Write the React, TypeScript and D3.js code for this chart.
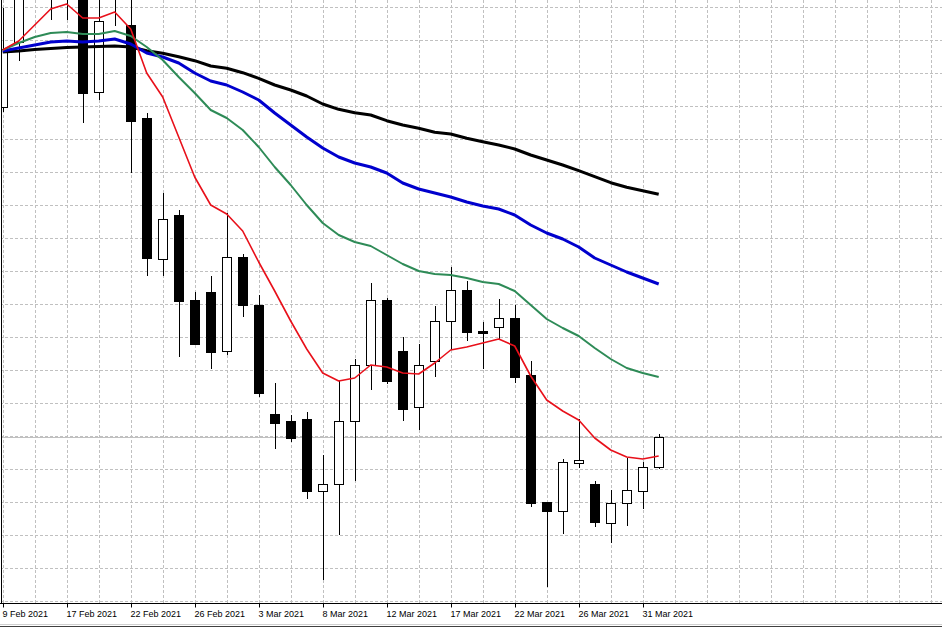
import React, { useEffect, useRef, FC } from "react";
import * as d3 from "d3";

const W = 942;
const H = 628;
const axisY = 603.5;

// daily candles, 9 Feb 2021 .. 1 Apr 2021 (42 bars)
const opens = [1893, 1958, 2008, 2030, 2005, 2020, 1908, 2005, 1975, 1882, 1741, 1785, 1700, 1708, 1649, 1743, 1695, 1586, 1579, 1581, 1509, 1516, 1579, 1635, 1700, 1649, 1593, 1639, 1679, 1710, 1669, 1673, 1682, 1625, 1498, 1489, 1537, 1516, 1477, 1497, 1509, 1533];
const highs = [1992, 2025, 2045, 2040, 2035, 2030, 2015, 2030, 2010, 1887, 1807, 1790, 1708, 1724, 1787, 1746, 1705, 1617, 1585, 1588, 1545, 1619, 1641, 1717, 1702, 1663, 1656, 1694, 1733, 1719, 1678, 1701, 1695, 1639, 1498, 1541, 1581, 1519, 1510, 1542, 1538, 1566];
const lows = [1888, 1939, 2003, 1980, 1980, 1877, 1900, 1974, 1827, 1724, 1724, 1643, 1655, 1631, 1645, 1683, 1603, 1551, 1558, 1501, 1420, 1465, 1519, 1610, 1616, 1579, 1570, 1623, 1650, 1659, 1631, 1661, 1617, 1493, 1413, 1466, 1532, 1473, 1457, 1474, 1491, 1531];
const closes = [1951, 2015, 2035, 2005, 2025, 1907, 1979, 2020, 1879, 1742, 1781, 1699, 1656, 1648, 1743, 1695, 1607, 1577, 1562, 1509, 1516, 1579, 1635, 1700, 1619, 1591, 1635, 1679, 1710, 1668, 1667, 1682, 1623, 1497, 1489, 1538, 1540, 1478, 1497, 1510, 1533, 1563];

// moving averages
const maFast = [1950, 1959, 1975, 1991, 1996, 1982, 1982, 1988, 1971, 1927, 1903, 1863, 1823, 1795, 1786, 1769, 1738, 1709, 1679, 1651, 1627, 1619, 1622, 1635, 1633, 1627, 1626, 1637, 1650, 1653, 1657, 1661, 1654, 1624, 1600, 1589, 1580, 1562, 1550, 1543, 1541, 1544];
const maMid = [1950, 1957, 1963, 1967, 1968, 1966, 1966, 1969, 1964, 1953, 1940, 1923, 1907, 1890, 1882, 1870, 1853, 1833, 1815, 1795, 1777, 1765, 1758, 1754, 1745, 1736, 1729, 1726, 1725, 1722, 1718, 1716, 1709, 1695, 1681, 1672, 1664, 1652, 1641, 1632, 1627, 1623];
const maSlow = [1949, 1952, 1955, 1958, 1959, 1958, 1959, 1961, 1956, 1947, 1943, 1937, 1927, 1919, 1915, 1908, 1900, 1887, 1875, 1863, 1852, 1843, 1837, 1833, 1827, 1817, 1811, 1807, 1803, 1798, 1794, 1791, 1785, 1775, 1767, 1761, 1753, 1742, 1735, 1728, 1722, 1716];
const maLong = [1948, 1949, 1950.5, 1951.5, 1952.5, 1953, 1953.5, 1954, 1953, 1949.3, 1946.7, 1943.3, 1939.3, 1934, 1931.7, 1927.3, 1921.7, 1915, 1910, 1904, 1896, 1890.7, 1887.3, 1885, 1879.3, 1875, 1871.7, 1867.7, 1866, 1861.7, 1858.3, 1855, 1851, 1845, 1840, 1835, 1829.3, 1823.3, 1817.3, 1812.7, 1809.3, 1805.7];

const tickLabels = ["9 Feb 2021", "17 Feb 2021", "22 Feb 2021", "26 Feb 2021", "3 Mar 2021", "8 Mar 2021", "12 Mar 2021", "17 Mar 2021", "22 Mar 2021", "26 Mar 2021", "31 Mar 2021"];
const tickEvery = 4;

const gridTop = 1993;
const gridStep = 33;

const Chart: FC = () => {
  const ref = useRef(null);

  useEffect(() => {
    const svg = d3.select(ref.current);
    svg.selectAll("*").remove();

    const n = closes.length;
    const x = d3.scaleLinear().domain([0, n - 1]).range([2.7, 2.7 + 16 * (n - 1)]);
    const y = d3.scaleLinear().domain([2000 - 604, 2000]).range([604, 0]);
    const px = (i: number) => Math.round(x(i));

    svg.append("rect").attr("width", W).attr("height", H).attr("fill", "#fff");

    svg
      .append("defs")
      .append("clipPath")
      .attr("id", "plot")
      .append("rect")
      .attr("x", 2)
      .attr("y", 0)
      .attr("width", W - 2)
      .attr("height", axisY - 0.5);

    const plot = svg.append("g").attr("clip-path", "url(#plot)");

    // grid
    const vx = d3.range(0, 30).map((j) => Math.round(x(j * 2)) + 0.5);
    plot
      .selectAll("line.vg")
      .data(vx)
      .enter()
      .append("line")
      .attr("x1", (d) => d)
      .attr("x2", (d) => d)
      .attr("y1", 0)
      .attr("y2", axisY)
      .attr("stroke", "#c0c0c0")
      .attr("stroke-dasharray", "3,2");

    const hy = d3.range(gridTop, 1390, -gridStep).map((p) => Math.round(y(p)) + 0.5);
    plot
      .selectAll("line.hg")
      .data(hy)
      .enter()
      .append("line")
      .attr("x1", 0)
      .attr("x2", W)
      .attr("y1", (d) => d)
      .attr("y2", (d) => d)
      .attr("stroke", "#c0c0c0")
      .attr("stroke-dasharray", "3,2");

    // bid line
    const bidY = Math.round(y(closes[n - 1])) + 0.5;
    plot
      .append("line")
      .attr("x1", 0)
      .attr("x2", W)
      .attr("y1", bidY)
      .attr("y2", bidY)
      .attr("stroke", "#c0c0c0");

    // candles
    const idx = d3.range(n);
    plot
      .selectAll("line.wick")
      .data(idx)
      .enter()
      .append("line")
      .attr("x1", (i) => px(i) + 0.5)
      .attr("x2", (i) => px(i) + 0.5)
      .attr("y1", (i) => Math.round(y(highs[i])))
      .attr("y2", (i) => Math.round(y(lows[i])))
      .attr("stroke", "#000")
      .attr("stroke-width", 1);

    plot
      .selectAll("rect.body")
      .data(idx)
      .enter()
      .append("rect")
      .attr("x", (i) => px(i) - 4.5)
      .attr("width", 9)
      .attr("y", (i) => Math.round(y(Math.max(opens[i], closes[i]))) + 0.5)
      .attr("height", (i) => Math.max(1, Math.round(y(Math.min(opens[i], closes[i]))) - Math.round(y(Math.max(opens[i], closes[i])))))
      .attr("fill", (i) => (closes[i] >= opens[i] ? "#fff" : "#000"))
      .attr("stroke", "#000")
      .attr("stroke-width", 1);

    // moving averages
    const line = d3
      .line<number>()
      .x((_, i) => x(i))
      .y((d) => y(d));

    const mas = [
      { data: maLong, color: "#000000", w: 3 },
      { data: maSlow, color: "#0000cd", w: 3 },
      { data: maMid, color: "#2e8b57", w: 2 },
      { data: maFast, color: "#e8101a", w: 1.6 },
    ];
    mas.forEach((m) => {
      plot
        .append("path")
        .attr("d", line(m.data))
        .attr("fill", "none")
        .attr("stroke", m.color)
        .attr("stroke-width", m.w)
        .attr("stroke-linejoin", "round");
    });

    // frame + time axis
    svg.append("line").attr("x1", 1.5).attr("x2", 1.5).attr("y1", 0).attr("y2", axisY).attr("stroke", "#000");
    svg.append("line").attr("x1", 0).attr("x2", W).attr("y1", axisY).attr("y2", axisY).attr("stroke", "#000");

    const ticks = tickLabels.map((t, j) => ({ t, x: px(j * tickEvery) + 0.5 }));
    const tg = svg.selectAll("g.tick").data(ticks).enter().append("g");
    tg.append("line")
      .attr("x1", (d) => d.x)
      .attr("x2", (d) => d.x)
      .attr("y1", axisY)
      .attr("y2", axisY + 4)
      .attr("stroke", "#000");
    tg.append("text")
      .attr("x", (d) => d.x - 1)
      .attr("y", 617)
      .attr("font-family", "Liberation Sans, Arial, sans-serif")
      .attr("font-size", 9)
      .attr("fill", "#000")
      .text((d) => d.t);

    svg.append("line").attr("x1", 0).attr("x2", W).attr("y1", 624.5).attr("y2", 624.5).attr("stroke", "#d0d0d0");
    svg.append("line").attr("x1", 0).attr("x2", W).attr("y1", 626.5).attr("y2", 626.5).attr("stroke", "#404040");
  }, []);

  return <svg ref={ref} width={W} height={H} style={{ display: "block" }}></svg>;
};

export default function App() {
  return (
    <div style={{ position: "absolute", left: 0, top: 0, width: W, height: H, overflow: "hidden" }}>
      <Chart />
    </div>
  );
}
